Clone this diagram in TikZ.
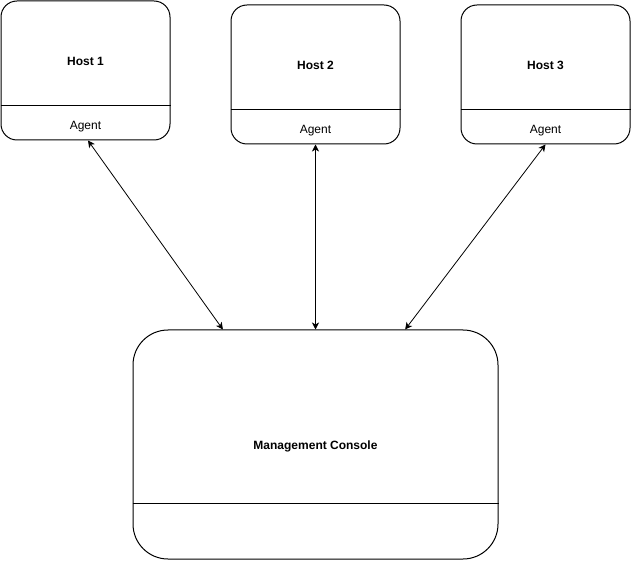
\documentclass[tikz,border=0pt]{standalone}
\usepackage{fontspec}
\setmainfont{Liberation Sans}
\usetikzlibrary{arrows.meta,calc}
\begin{document}
\begin{tikzpicture}[x=1pt,y=-1pt,
  hostbox/.style={draw, line width=1pt, rounded corners=16pt, inner sep=0pt,
    minimum width=169pt, minimum height=139pt},
  consolebox/.style={draw, line width=1pt, rounded corners=35pt, inner sep=0pt,
    minimum width=365pt, minimum height=229pt},
  divider/.style={line width=1pt},
  title/.style={font=\fontsize{12pt}{14pt}\selectfont\bfseries, inner sep=0pt},
  label/.style={font=\fontsize{12pt}{14pt}\selectfont, inner sep=0pt},
  link/.style={line width=0.8pt, {Stealth[length=7pt,width=7pt,inset=2pt]}-{Stealth[length=7pt,width=7pt,inset=2pt]}}
]
\useasboundingbox (0,0) rectangle (632,561);

% hosts
\node[hostbox] (h1) at (85.5,70.5) {};
\node[hostbox] (h2) at (315.5,74.5) {};
\node[hostbox] (h3) at (545.5,74.5) {};
\foreach \h in {h1,h2,h3}
  \draw[divider] ($(\h.south west)+(0,-35)$) -- ($(\h.south east)+(0,-35)$);

\node[title] (h1t) at (85.5,61) {Host 1};
\node[title] (h2t) at (315.5,65) {Host 2};
\node[title] (h3t) at (545.5,65) {Host 3};
\node[label] (h1a) at (85.5,126.5) {Agent};
\node[label] (h2a) at (315.5,130.5) {Agent};
\node[label] (h3a) at (545.5,130.5) {Agent};

% management console
\node[consolebox] (mc) at (315.5,444.5) {};
\draw[divider] ($(mc.south west)+(0,-56)$) -- ($(mc.south east)+(0,-56)$);
\node[title] (mct) at (315.5,446.5) {Management Console};

% agent <-> console links
\coordinate (p1) at ($(h1.south)+(2.5,0)$);
\coordinate (q1) at ($(mc.north west)!0.247!(mc.north east)$);
\coordinate (q2) at ($(mc.north west)!0.5!(mc.north east)$);
\coordinate (q3) at ($(mc.north west)!0.745!(mc.north east)$);
\draw[link] (p1) -- (q1);
\draw[link] (h2.south) -- (q2);
\draw[link] (h3.south) -- (q3);
\end{tikzpicture}
\end{document}
